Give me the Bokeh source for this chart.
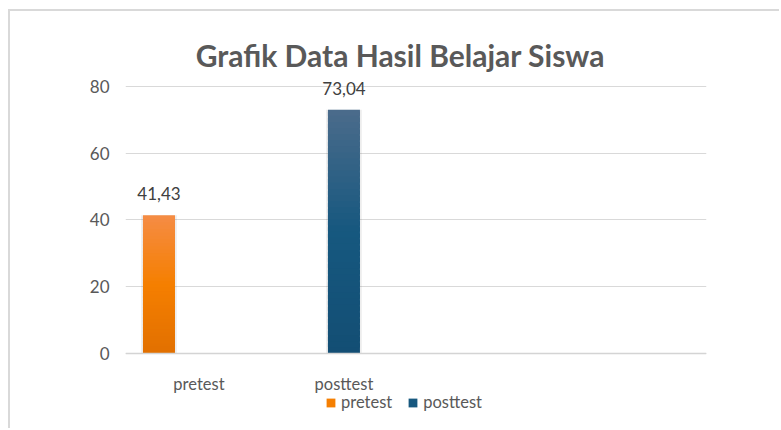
from bokeh.plotting import figure
from bokeh.models import (Range1d, Label, LabelSet, Legend, LegendItem, FixedTicker,
                          ColumnDataSource, Span)
from bokeh.core.properties import value
from bokeh.embed import file_html
from bokeh.resources import INLINE

# ---- data ----
categories = ["pretest", "posttest"]
scores = [41.43, 73.04]
score_labels = ["41,43", "73,04"]
y_ticks = [0, 20, 40, 60, 80]
title_text = "Grafik Data Hasil Belajar Siswa"

# ---- style ----
FONT = "Lato"
GREY = "#595959"
# gradient stops (bottom, middle, top) per series
gradients = [
    ["#E27000", "#F57F00", "#F58C45"],
    ["#134E74", "#16587F", "#4B6B8B"],
]
cat_label_offsets = [40, 0]
BAR_W = 0.173
N_SLICES = 40


def hex2rgb(h):
    h = h.lstrip("#")
    return [int(h[i:i + 2], 16) for i in (0, 2, 4)]


def mix(c1, c2, t):
    a, b = hex2rgb(c1), hex2rgb(c2)
    return "#%02x%02x%02x" % tuple(int(round(a[k] + (b[k] - a[k]) * t)) for k in range(3))


def grad_color(stops, t):
    if t <= 0.5:
        return mix(stops[0], stops[1], t / 0.5)
    return mix(stops[1], stops[2], (t - 0.5) / 0.5)


p = figure(width=771, height=419,
           x_range=Range1d(-0.181, 2.96), y_range=Range1d(-23.07, 102.47),
           output_backend="svg", toolbar_location=None, x_axis_type=None,
           min_border_left=115, min_border_right=75,
           min_border_top=0, min_border_bottom=0)
p.outline_line_color = None
p.background_fill_color = "white"
p.border_fill_color = "white"
p.styles = {"margin-left": "8px", "margin-top": "9px",
            "border-top": "2px solid #d9d9d9", "border-left": "2px solid #d9d9d9"}

yax = p.yaxis[0]
yax.ticker = FixedTicker(ticks=y_ticks)
yax.axis_line_color = None
yax.major_tick_line_color = None
yax.minor_tick_line_color = None
yax.major_tick_out = 0
yax.major_tick_in = 0
yax.major_label_standoff = 16
yax.major_label_text_font = FONT
yax.major_label_text_font_size = "17px"
yax.major_label_text_color = GREY
p.ygrid.grid_line_color = "#d9d9d9"
p.ygrid.grid_line_width = 1

# bar shadows
p.vbar(x=list(range(len(scores))), top=scores, bottom=0, width=BAR_W + 0.02,
       fill_color="#000000", fill_alpha=0.07, line_color=None)

# gradient bars built as stacked (slightly overlapping) slices of each value
bar_renderers = []
for i, v in enumerate(scores):
    xs, bots, tops, cols = [], [], [], []
    for k in range(N_SLICES):
        xs.append(i)
        bots.append(v * k / N_SLICES)
        tops.append(v * min(k + 1.7, N_SLICES) / N_SLICES)
        cols.append(grad_color(gradients[i], (k + 0.5) / N_SLICES))
    src = ColumnDataSource(dict(x=xs, bottom=bots, top=tops, c=cols))
    r = p.vbar(x="x", bottom="bottom", top="top", width=BAR_W, fill_color="c",
               line_color=None, source=src)
    bar_renderers.append(r)

p.add_layout(Span(location=0, dimension="width", line_color="#d4d4d4", line_width=1.5))

# data labels
lab_src = ColumnDataSource(dict(x=list(range(len(scores))), y=scores, t=score_labels))
p.add_layout(LabelSet(x="x", y="y", text="t", source=lab_src, text_align="center",
                      text_baseline="alphabetic", y_offset=15, text_font=value(FONT),
                      text_font_size=value("17px"), text_color=value("#404040")))

# category labels
for i, c in enumerate(categories):
    p.add_layout(Label(x=i, y=-9, x_offset=cat_label_offsets[i], text=c,
                       text_align="center", text_baseline="middle", text_font=FONT,
                       text_font_size="16.5px", text_color=GREY))

# title
p.add_layout(Label(x=1.305, y=89.3, text=title_text, text_align="center",
                   text_baseline="alphabetic", text_font=FONT, text_font_style="bold",
                   text_font_size="30px", text_color=GREY))

# legend (uses the mid-tone slice of each gradient bar)
items = [LegendItem(label=c, renderers=[bar_renderers[i]], index=N_SLICES // 2)
         for i, c in enumerate(categories)]
legend = Legend(items=items, orientation="horizontal", location=(200, 18),
                glyph_width=11, glyph_height=11, label_standoff=5, spacing=15,
                padding=0, margin=0, border_line_color=None, background_fill_alpha=0,
                label_text_font=FONT, label_text_font_size="16.5px",
                label_text_color=GREY)
p.add_layout(legend)

open("out.html", "w").write(file_html(p, INLINE))
